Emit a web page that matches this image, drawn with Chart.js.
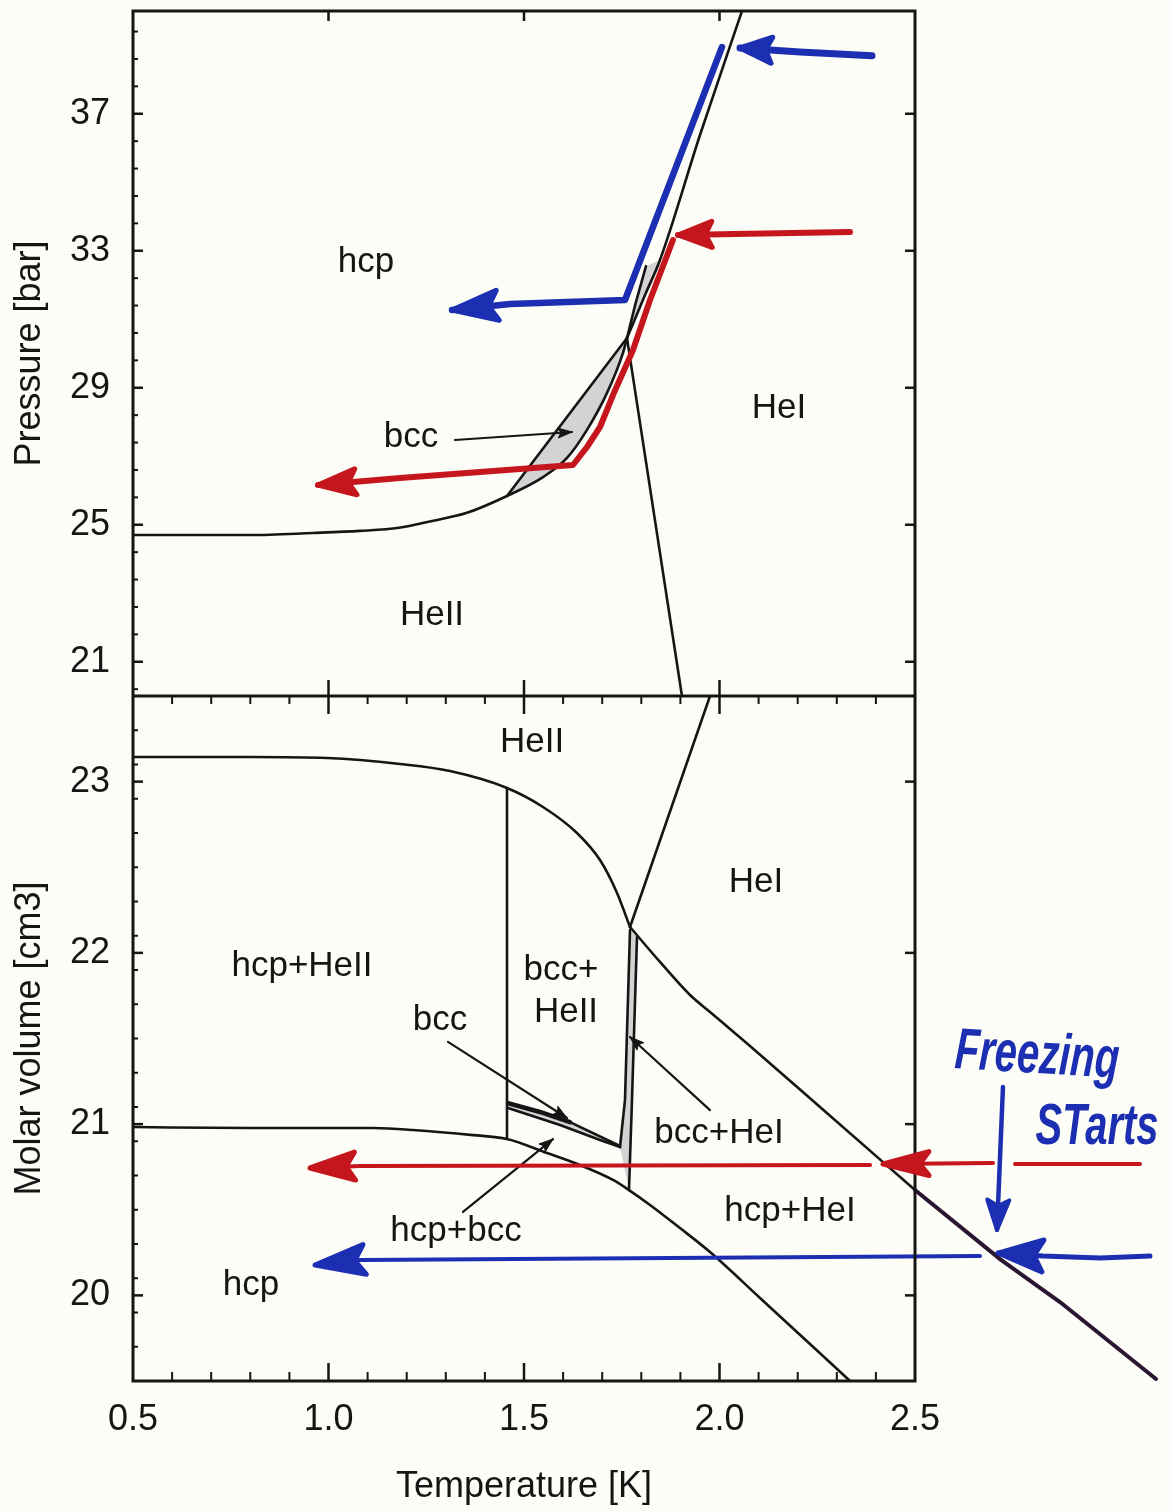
<!DOCTYPE html>
<html>
<head>
<meta charset="utf-8">
<script src="https://cdn.jsdelivr.net/npm/chart.js@4.4.1/dist/chart.umd.min.js"></script>
<style>
  html, body { margin: 0; padding: 0; background: #fdfdf7; }
  canvas { display: block; }
</style>
</head>
<body>
<canvas id="phase" width="1170" height="1511"></canvas>
<script>
// ---------- axis ticks ----------
const T_TICKS = [0.5, 1.0, 1.5, 2.0, 2.5];
const P_TICKS = [21, 25, 29, 33, 37];
const V_TICKS = [20, 21, 22, 23];

// ---------- pressure – temperature (upper panel) ----------
// melting curve of He II, continuing as the bcc / He II boundary
const MELT_T = [0.5, 0.80, 0.96, 1.08, 1.18, 1.265, 1.352, 1.4565, 1.5486, 1.61, 1.6611, 1.7123, 1.7532, 1.7634];
const MELT_P = [24.70, 24.70, 24.76, 24.82, 24.91, 25.11, 25.34, 25.84, 26.39, 26.95, 27.77, 28.85, 30.02, 30.45];
// hcp / bcc boundary
const HCPBCC_T = [1.4565, 1.7634];
const HCPBCC_P = [25.84, 30.45];
// lambda line
const LAMBDA_T = [1.7634, 1.904];
const LAMBDA_P = [30.45, 20.0];
// melting curve of He I
const MELT_HI_T = [1.7634, 1.8095, 1.8478, 1.9501, 2.0575];
const MELT_HI_P = [30.45, 31.71, 32.73, 36.38, 40.0];
// narrow bcc strip above the upper triple point
const STRIP_T = [1.7634, 1.785, 1.812];
const STRIP_P = [30.45, 31.45, 32.55];

// hand-drawn paths (upper panel)
const BLUE_UP_T = [2.0064, 1.7583, 1.4642, 1.3159];
const BLUE_UP_P = [38.949, 31.562, 31.445, 31.27];
const BLUE_UP_IN_T = [2.39, 2.2059, 2.0524];
const BLUE_UP_IN_P = [38.69, 38.80, 38.92];
const RED_UP_T = [1.881, 1.8223, 1.7788, 1.7276, 1.6944, 1.6611, 1.6253, 1.3875, 1.1829, 0.9731];
const RED_UP_P = [33.314, 31.562, 30.102, 28.788, 27.854, 27.27, 26.745, 26.54, 26.365, 26.16];
const RED_UP_IN_T = [2.3338, 1.8939];
const RED_UP_IN_P = [33.547, 33.46];

// pointer to the bcc field
const PTR_BCC_UP_T = [1.3235, 1.6228];
const PTR_BCC_UP_P = [27.474, 27.708];

// ---------- molar volume – temperature (lower panel) ----------
// liquid He II at melting
const LIQ_T = [0.5, 0.7992, 0.9962, 1.1829, 1.3107, 1.4565, 1.5486, 1.6355, 1.6944, 1.7379, 1.7711];
const LIQ_V = [23.144, 23.144, 23.138, 23.103, 23.062, 22.963, 22.852, 22.700, 22.542, 22.350, 22.151];
// liquid He I at melting
const LIQ_HI_T = [1.7711, 1.8478, 1.9246, 1.9757, 2.078, 2.257, 2.5];
const LIQ_HI_V = [22.151, 21.947, 21.754, 21.655, 21.456, 21.100, 20.615];
// hand-drawn continuation beyond 2.5 K (listed from its far end)
const LIQ_EXT_T = [3.1164, 2.8708, 2.72, 2.5];
const LIQ_EXT_V = [19.512, 19.961, 20.207, 20.615];
// lambda line
const LAMV_T = [1.7711, 1.9757];
const LAMV_V = [22.151, 23.5];
// lower triple-point tie line
const TIE_T = [1.4565, 1.4565];
const TIE_V = [22.963, 20.919];
// hcp at melting
const HCP_T = [0.5, 0.7992, 1.1138, 1.2161, 1.3696, 1.4565, 1.5588, 1.6432, 1.7276, 1.7685, 1.8223, 1.899, 1.9757, 2.1036, 2.3338];
const HCP_V = [20.983, 20.977, 20.977, 20.966, 20.936, 20.913, 20.831, 20.761, 20.674, 20.615, 20.528, 20.393, 20.253, 19.985, 19.5];
// bcc + He I strip
const STRIP_L_T = [1.7711, 1.7583, 1.7455];
const STRIP_L_V = [22.134, 21.141, 20.866];
const STRIP_R_T = [1.789, 1.7762, 1.7685];
const STRIP_R_V = [22.093, 21.141, 20.615];
// bcc lens
const BCC_U_T = [1.4591, 1.5409, 1.6176, 1.7455];
const BCC_U_V = [21.123, 21.071, 21.012, 20.872];
const BCC_L_T = [1.4591, 1.5921, 1.6944, 1.7455];
const BCC_L_V = [21.094, 20.995, 20.907, 20.866];

// pointers
const PTR_BCC_T = [1.3056, 1.61];
const PTR_BCC_V = [21.48, 21.036];
const PTR_HCPBCC_T = [1.344, 1.5742];
const PTR_HCPBCC_V = [20.487, 20.913];
const PTR_BCCHEI_T = [1.9757, 1.7711];
const PTR_BCCHEI_V = [21.082, 21.509];

// hand-drawn paths (lower panel)
const RED_LO_T = [2.385, 1.0806, 0.9527];
const RED_LO_V = [20.761, 20.756, 20.744];
const RED_LO_IN_T = [2.6995, 2.4182];
const RED_LO_IN_V = [20.773, 20.767];
const RED_LO_TAIL_T = [3.0754, 2.7558];
const RED_LO_TAIL_V = [20.767, 20.767];
const BLUE_LO_T = [2.6662, 1.0806, 0.9655];
const BLUE_LO_V = [20.23, 20.207, 20.177];
const BLUE_LO_IN_T = [3.101, 2.9731, 2.8274, 2.7123];
const BLUE_LO_IN_V = [20.23, 20.218, 20.23, 20.247];
const BLUE_DOWN_T = [2.725, 2.7097];
const BLUE_DOWN_V = [21.217, 20.382];

// ---------- region names ----------
const UP_LABELS = ['hcp', 'bcc', 'HeI', 'HeII'];
const UP_LABEL_T = [1.0959, 1.211, 2.1522, 1.2647];
const UP_LABEL_P = [32.672, 27.562, 28.409, 22.365];
const LO_LABELS = ['HeII', 'HeI', 'hcp+HeII', 'bcc+', 'HeII', 'bcc', 'bcc+HeI', 'hcp+HeI', 'hcp+bcc', 'hcp'];
const LO_LABEL_T = [1.5205, 2.0934, 0.9322, 1.5946, 1.6074, 1.2852, 1.9987, 2.1803, 1.3261, 0.8018];
const LO_LABEL_V = [23.231, 22.414, 21.923, 21.900, 21.655, 21.608, 20.948, 20.493, 20.376, 20.061];
const NOTE_LINES = ['Freezing', 'STarts'];
const NOTE_T = [2.812, 2.9655];
const NOTE_V = [21.392, 20.977];

// ---------- styling ----------
const FONT = "'Liberation Sans', Arial, Helvetica, sans-serif";
const INK = '#151515';
const BLUE = '#1c2fb2';
const RED = '#c5151d';
const MARKER_DARK = '#2a1630';
const SHADE = '#d3d3d3';
const PAPER = '#fdfdf7';

const pts = (ts, vs) => ts.map((t, i) => ({ x: t, y: vs[i] }));

function curve(ts, vs, axis, extra) {
  return Object.assign({
    data: pts(ts, vs),
    yAxisID: axis,
    borderColor: INK,
    borderWidth: 2.6,
    pointRadius: 0,
    pointHitRadius: 0,
    fill: false,
    tension: 0,
    borderJoinStyle: 'round',
    borderCapStyle: 'round',
    order: 1
  }, extra || {});
}
const smooth = { cubicInterpolationMode: 'monotone' };
function marker(ts, vs, axis, color, width, arrow, extra) {
  return curve(ts, vs, axis, Object.assign({
    borderColor: color, borderWidth: width, arrow: arrow, order: 0
  }, extra || {}));
}
function shade(ts, vs, axis) {
  return curve(ts, vs, axis, {
    borderWidth: 0, borderColor: 'rgba(0,0,0,0)', backgroundColor: SHADE, fill: 'shape', order: 2
  });
}

const datasets = [
  // shaded single-phase slivers
  shade(HCPBCC_T.concat(MELT_T.slice(7).reverse()), HCPBCC_P.concat(MELT_P.slice(7).reverse()), 'yP'),
  shade(STRIP_T.concat([1.8478, 1.8095, 1.7634]), STRIP_P.concat([32.73, 31.71, 30.45]), 'yP'),
  shade(STRIP_L_T.concat(STRIP_R_T.slice().reverse()), STRIP_L_V.concat(STRIP_R_V.slice().reverse()), 'yV'),
  shade(BCC_U_T.concat(BCC_L_T.slice().reverse()), BCC_U_V.concat(BCC_L_V.slice().reverse()), 'yV'),

  // upper panel phase boundaries
  curve(MELT_T, MELT_P, 'yP', smooth),
  curve(HCPBCC_T, HCPBCC_P, 'yP'),
  curve(LAMBDA_T, LAMBDA_P, 'yP'),
  curve(MELT_HI_T, MELT_HI_P, 'yP', smooth),
  curve(STRIP_T, STRIP_P, 'yP'),
  curve(PTR_BCC_UP_T, PTR_BCC_UP_P, 'yP', { borderWidth: 2.2, arrow: { len: 14, half: 5, stroke: 1 } }),

  // lower panel phase boundaries
  curve(LIQ_T, LIQ_V, 'yV', smooth),
  curve(LIQ_HI_T, LIQ_HI_V, 'yV', smooth),
  curve(LAMV_T, LAMV_V, 'yV'),
  curve(TIE_T, TIE_V, 'yV'),
  curve(HCP_T, HCP_V, 'yV', smooth),
  curve(STRIP_L_T, STRIP_L_V, 'yV'),
  curve(STRIP_R_T, STRIP_R_V, 'yV'),
  curve(BCC_U_T.slice(0, 3), BCC_U_V.slice(0, 3), 'yV', { borderWidth: 4.5 }),
  curve(BCC_U_T.slice(2), BCC_U_V.slice(2), 'yV'),
  curve(BCC_L_T, BCC_L_V, 'yV'),
  curve(PTR_BCC_T, PTR_BCC_V, 'yV', { borderWidth: 2.2, arrow: { len: 14, half: 5, stroke: 1 } }),
  curve(PTR_HCPBCC_T, PTR_HCPBCC_V, 'yV', { borderWidth: 2.2, arrow: { len: 14, half: 5, stroke: 1 } }),
  curve(PTR_BCCHEI_T, PTR_BCCHEI_V, 'yV', { borderWidth: 2.2, arrow: { len: 14, half: 5, stroke: 1 } }),
  marker(LIQ_EXT_T, LIQ_EXT_V, 'yV', MARKER_DARK, 4, null, { clip: false }),

  // hand-drawn cooling paths
  marker(BLUE_UP_T, BLUE_UP_P, 'yP', BLUE, 6.5, { len: 46, half: 15, stroke: 5 }),
  marker(BLUE_UP_IN_T, BLUE_UP_IN_P, 'yP', BLUE, 7, { len: 32, half: 13, stroke: 5 }),
  marker(RED_UP_T, RED_UP_P, 'yP', RED, 6, { len: 38, half: 13, stroke: 5 }),
  marker(RED_UP_IN_T, RED_UP_IN_P, 'yP', RED, 6, { len: 34, half: 13, stroke: 5 }),
  marker(RED_LO_T, RED_LO_V, 'yV', RED, 4, { len: 45, half: 14, stroke: 5 }, { clip: false }),
  marker(RED_LO_IN_T, RED_LO_IN_V, 'yV', RED, 4, { len: 46, half: 12, stroke: 5 }, { clip: false }),
  marker(RED_LO_TAIL_T, RED_LO_TAIL_V, 'yV', RED, 4, null, { clip: false }),
  marker(BLUE_LO_T, BLUE_LO_V, 'yV', BLUE, 4, { len: 50, half: 15, stroke: 5 }, { clip: false }),
  marker(BLUE_LO_IN_T, BLUE_LO_IN_V, 'yV', BLUE, 5, { len: 45, half: 16, stroke: 5 }, { clip: false }),
  marker(BLUE_DOWN_T, BLUE_DOWN_V, 'yV', BLUE, 4.5, { len: 30, half: 11, stroke: 4 }, { clip: false })
];

// arrow heads at the last point of a path
const arrowHeads = {
  id: 'arrowHeads',
  afterDatasetsDraw(chart) {
    const ctx = chart.ctx;
    chart.data.datasets.forEach((ds, i) => {
      if (!ds.arrow) return;
      const els = chart.getDatasetMeta(i).data;
      const tip = els[els.length - 1], prev = els[els.length - 2];
      const a = Math.atan2(tip.y - prev.y, tip.x - prev.x);
      const c = Math.cos(a), s = Math.sin(a);
      const { len, half, stroke } = ds.arrow;
      const bx = tip.x - len * c, by = tip.y - len * s;
      ctx.save();
      ctx.beginPath();
      ctx.moveTo(tip.x, tip.y);
      ctx.lineTo(bx - half * s, by + half * c);
      ctx.lineTo(tip.x - 0.8 * len * c, tip.y - 0.8 * len * s);
      ctx.lineTo(bx + half * s, by - half * c);
      ctx.closePath();
      ctx.fillStyle = ds.borderColor;
      ctx.strokeStyle = ds.borderColor;
      ctx.lineJoin = 'round';
      ctx.lineWidth = stroke;
      ctx.fill();
      ctx.stroke();
      ctx.restore();
    });
  }
};

// paper, frame, inward ticks, region names and notes
const decorations = {
  id: 'decorations',
  beforeDraw(chart) {
    const ctx = chart.ctx;
    ctx.save();
    ctx.fillStyle = PAPER;
    ctx.fillRect(0, 0, chart.width, chart.height);
    ctx.restore();
  },
  afterDatasetsDraw(chart) {
    const ctx = chart.ctx;
    const xs = chart.scales.x, yP = chart.scales.yP, yV = chart.scales.yV;
    const { left, right, top, bottom } = chart.chartArea;
    const mid = yP.bottom;
    ctx.save();
    ctx.strokeStyle = INK;
    ctx.lineWidth = 3;
    ctx.strokeRect(left, top, right - left, bottom - top);
    ctx.beginPath();
    ctx.moveTo(left, mid); ctx.lineTo(right, mid);
    ctx.stroke();

    const seg = (x1, y1, x2, y2) => { ctx.beginPath(); ctx.moveTo(x1, y1); ctx.lineTo(x2, y2); ctx.stroke(); };
    ctx.lineWidth = 2.5;
    // temperature ticks
    T_TICKS.slice(1, -1).forEach(t => {
      const x = xs.getPixelForValue(t);
      seg(x, top, x, top + 10);
      seg(x, mid - 16, x, mid + 18);
      seg(x, bottom, x, bottom - 18);
    });
    ctx.lineWidth = 2;
    for (let k = 1; k < 20; k++) {
      if (k % 5 === 0) continue;
      const x = xs.getPixelForValue(0.5 + k * 0.1);
      seg(x, mid, x, mid + 8);
      seg(x, bottom, x, bottom - 9);
    }
    // pressure ticks
    ctx.lineWidth = 2.5;
    P_TICKS.forEach(p => {
      const y = yP.getPixelForValue(p);
      seg(left, y, left + 10, y);
      seg(right, y, right - 10, y);
    });
    ctx.lineWidth = 2;
    for (let k = 0; k < 25; k++) {
      const p = 20.2 + k * 0.8;
      if (k % 5 === 1) continue;
      const y = yP.getPixelForValue(p);
      seg(left, y, left + 5, y);
    }
    // volume ticks
    ctx.lineWidth = 2.5;
    V_TICKS.forEach(v => {
      const y = yV.getPixelForValue(v);
      seg(left, y, left + 10, y);
      seg(right, y, right - 10, y);
    });
    ctx.lineWidth = 2;
    for (let k = 1; k < 20; k++) {
      const v = 19.5 + k * 0.2;
      if (Math.abs(v - Math.round(v)) < 1e-6) continue;
      const y = yV.getPixelForValue(v);
      seg(left, y, left + 5, y);
    }

    // region names
    ctx.fillStyle = INK;
    ctx.font = '35px ' + FONT;
    ctx.textAlign = 'center';
    ctx.textBaseline = 'middle';
    UP_LABELS.forEach((txt, i) => {
      ctx.fillText(txt, xs.getPixelForValue(UP_LABEL_T[i]), yP.getPixelForValue(UP_LABEL_P[i]));
    });
    LO_LABELS.forEach((txt, i) => {
      ctx.fillText(txt, xs.getPixelForValue(LO_LABEL_T[i]), yV.getPixelForValue(LO_LABEL_V[i]));
    });

    // handwritten note
    ctx.fillStyle = BLUE;
    NOTE_LINES.forEach((txt, i) => {
      ctx.save();
      ctx.translate(xs.getPixelForValue(NOTE_T[i]), yV.getPixelForValue(NOTE_V[i]));
      ctx.rotate(i === 0 ? 0.06 : 0);
      ctx.scale(1, 1.45);
      ctx.font = 'italic 600 40px ' + FONT;
      ctx.fillText(txt, 0, 0);
      ctx.restore();
    });
    ctx.restore();
  }
};

const tickFont = { family: FONT, size: 36 };
const titleFont = { family: FONT, size: 36 };

function yScale(min, max, ticks, title) {
  return {
    type: 'linear',
    position: 'left',
    stack: 'panels',
    stackWeight: 1,
    min: min,
    max: max,
    afterBuildTicks: s => { s.ticks = ticks.map(v => ({ value: v })); },
    afterFit: s => { s.width = 133; s.paddingTop = 0; s.paddingBottom = 0; },
    grid: { display: false, drawTicks: false },
    border: { display: false },
    ticks: { font: tickFont, color: INK, padding: 23, autoSkip: false, callback: v => String(v) },
    title: { display: true, text: title, font: titleFont, color: INK, padding: { top: 8, bottom: 0 } }
  };
}

new Chart(document.getElementById('phase'), {
  type: 'line',
  data: { datasets: datasets },
  options: {
    responsive: false,
    animation: false,
    events: [],
    layout: { padding: { left: 0, right: 255, top: 11, bottom: 0 } },
    plugins: { legend: { display: false }, tooltip: { enabled: false } },
    scales: {
      x: {
        type: 'linear',
        min: 0.5,
        max: 2.5,
        afterBuildTicks: s => { s.ticks = T_TICKS.map(v => ({ value: v })); },
        afterFit: s => { s.height = 130; s.paddingLeft = 0; s.paddingRight = 0; },
        grid: { display: false, drawTicks: false },
        border: { display: false },
        ticks: { font: tickFont, color: INK, padding: 17, maxRotation: 0, autoSkip: false, callback: v => v.toFixed(1) },
        title: { display: true, text: 'Temperature [K]', font: titleFont, color: INK, padding: { top: 0, bottom: 2 } }
      },
      yV: yScale(19.5, 23.5, V_TICKS, 'Molar volume [cm3]'),
      yP: yScale(20, 40, P_TICKS, 'Pressure [bar]')
    }
  },
  plugins: [decorations, arrowHeads]
});
</script>
</body>
</html>
